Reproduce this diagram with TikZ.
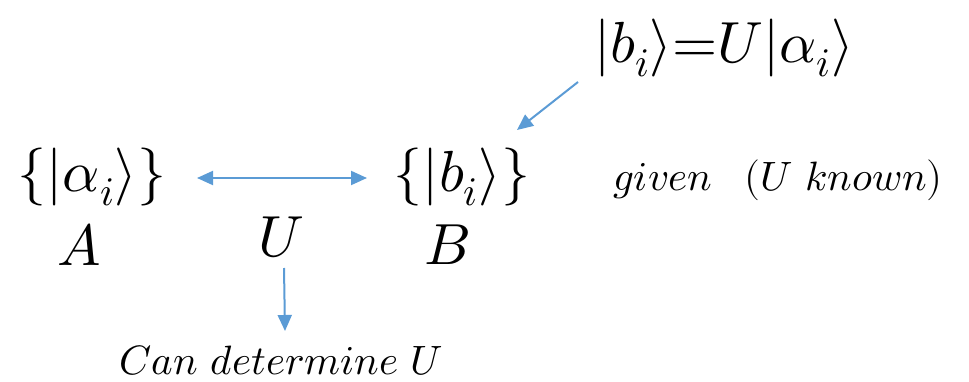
\documentclass[tikz,border=0pt]{standalone}
\usepackage{unicode-math}
\usetikzlibrary{arrows.meta}
\definecolor{arrowblue}{RGB}{91,155,213}
\begin{document}
\begin{tikzpicture}[x=1pt,y=-1pt,
  big/.style={inner sep=0pt,font=\fontsize{58}{62}\selectfont},
  mid/.style={inner sep=0pt,font=\fontsize{58}{62}\selectfont},
  small/.style={inner sep=0pt,font=\fontsize{41}{45}\selectfont},
  conn/.style={draw=arrowblue,line width=2pt,-{Triangle[length=16pt,width=14pt]}},
  conn2/.style={draw=arrowblue,line width=2pt,{Triangle[length=16pt,width=14pt]}-{Triangle[length=16pt,width=14pt]}}]
\useasboundingbox (0,0) rectangle (969,382);
\node[big] (setA) at (92,177) {$\{|\alpha_i\rangle\}$};
\node[big] (setB) at (462,177) {$\{|b_i\rangle\}$};
\node[big] (labA) at (79,245) {$A$};
\node[big] (labB) at (447,245) {$B$};
\node[big] (labU) at (281,237) {$U$};
\node[mid] (rel) at (724,48) {$|b_i\rangle\mathord{=}U|\alpha_i\rangle$};
\node[small] (given) at (778,180) {$given$\hspace{0.8em}$(U$ $known)$};
\node[small] (det) at (281,360) {$Can$ $determine$ $U$};
\coordinate (lA) at (197,178);
\coordinate (rB) at (367,178);
\draw[conn2] (lA) -- (rB);
\coordinate (dtop) at (284,268);
\coordinate (dbot) at (285,331);
\draw[conn] (dtop) -- (dbot);
\coordinate (ds) at (578,82);
\coordinate (de) at (517,130);
\draw[conn] (ds) -- (de);
\end{tikzpicture}
\end{document}
